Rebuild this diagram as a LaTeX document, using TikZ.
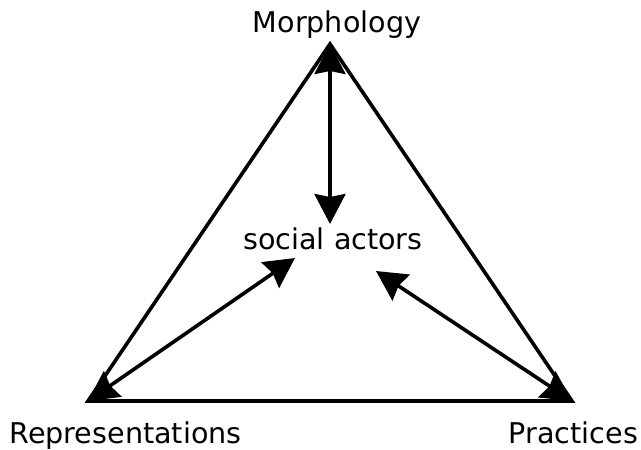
\documentclass[tikz,border=0pt]{standalone}
\usepackage{fontspec}
\setmainfont{DejaVu Sans}
\usetikzlibrary{arrows.meta}
\begin{document}
\begin{tikzpicture}[x=1pt,y=-1pt,
  edge/.style={line width=3.6pt, line join=miter},
  link/.style={line width=3.6pt, {Stealth[length=30pt,width=31pt,inset=3pt]}-{Stealth[length=30pt,width=31pt,inset=3pt]}},
  lbl/.style={font=\fontsize{28.6}{32}\selectfont, inner sep=0pt, anchor=base}]
  \useasboundingbox (0,0) rectangle (641,450);
  % corners of the triangle
  \coordinate (A) at (330,44);
  \coordinate (B) at (88,401);
  \coordinate (C) at (572,401);
  % labels
  \node[lbl] (morph) at (337,32) {Morphology};
  \node[lbl] (repr) at (125.5,443) {Representations};
  \node[lbl] (prac) at (573.5,443) {Practices};
  \node[lbl] (soc) at (333,249) {social actors};
  % arrow ends near the centre label
  \coordinate (sTop) at (330,224);
  \coordinate (sLeft) at (295,258);
  \coordinate (sRight) at (376,271);
  % triangle
  \draw[edge] (A) -- (B) -- (C) -- cycle;
  % links between corners and centre
  \draw[link] (A) -- (sTop);
  \draw[link] (B) -- (sLeft);
  \draw[link] (C) -- (sRight);
\end{tikzpicture}
\end{document}
